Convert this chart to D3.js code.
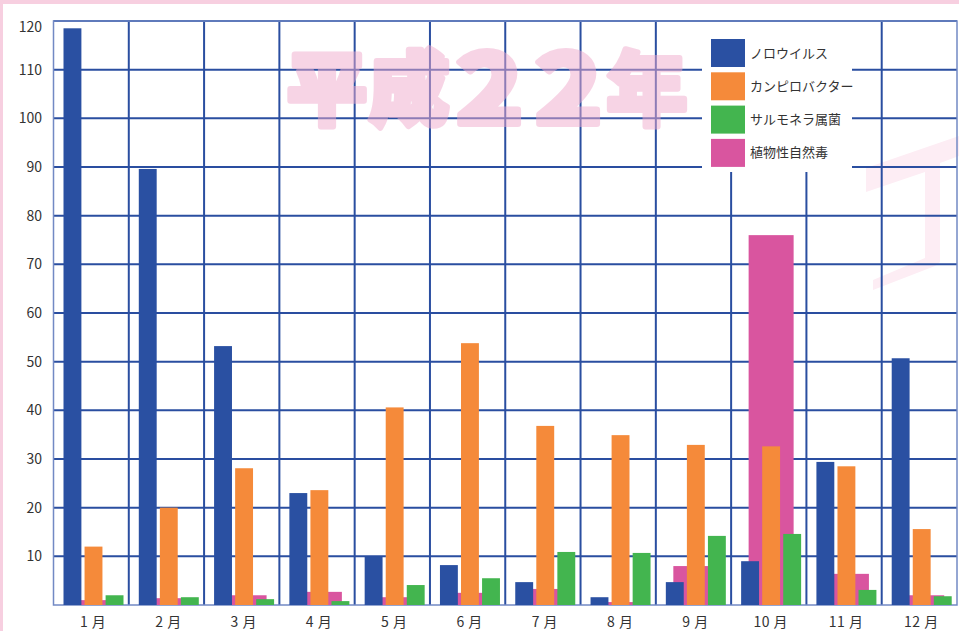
<!DOCTYPE html>
<html lang="ja">
    <head>
        <meta charset="utf-8">
        <title>平成22年 月別食中毒発生件数</title>
        <script src="https://d3js.org/d3.v7.min.js"></script>
        <style>
            body { margin: 0; background: #fff; }
            text { font-family: 'Noto Sans CJK JP', 'Noto Sans', sans-serif; }
        </style>
    </head>
    <body>
        <script>
            const months = ['1 月', '2 月', '3 月', '4 月', '5 月', '6 月', '7 月', '8 月', '9 月', '10 月', '11 月', '12 月'];
            const seriesNames = ['ノロウイルス', 'カンピロバクター', 'サルモネラ属菌', '植物性自然毒'];
            const norovirus = [118.5, 89.6, 53.2, 23, 10, 8.2, 4.7, 1.6, 4.7, 9, 29.4, 50.7];
            const campylobacter = [12, 20, 28.1, 23.6, 40.6, 53.8, 36.8, 34.9, 32.9, 32.6, 28.5, 15.6];
            const salmonella = [2, 1.6, 1.2, 0.8, 4.1, 5.5, 10.9, 10.7, 14.2, 14.6, 3.1, 1.8];
            const plantToxin = [1, 1.4, 2, 2.7, 1.6, 2.5, 3.3, 0.6, 8, 76, 6.4, 2];
            const yTicks = [10, 20, 30, 40, 50, 60, 70, 80, 90, 100, 110, 120];
            const colors = ['#2a50a2', '#f58a3a', '#43b54f', '#d9559f'];

            const w = 959;
            const h = 631;
            const plotLeft = 53.5, plotRight = 957, plotTop = 21, plotBottom = 605;

            const svg = d3.select('body')
                          .append('svg')
                          .attr('width', w)
                          .attr('height', h)

            // pink frame
            svg.append('rect').attr('x', 0).attr('y', 0).attr('width', w).attr('height', 4).attr('fill', '#f7cfe0')
            svg.append('rect').attr('x', 0).attr('y', 0).attr('width', 3).attr('height', h).attr('fill', '#f7cfe0')

            const xScale = d3.scaleBand()
                             .domain(months)
                             .range([plotLeft, plotRight])
            const inner = d3.scaleBand()
                            .domain([0, 1, 2])
                            .range([10, 70])
                            .paddingInner(0.15)
            const yScale = d3.scaleLinear()
                             .domain([0, 120])
                             .range([plotBottom, plotTop])

            // decorative shape on the right
            svg.append('path')
               .attr('d', 'M866,168 L959,136 L959,156 L940,163 L940,262 L935,266 L873,290 L873,280 L925,258 L925,172 L866,192 Z')
               .attr('fill', '#fdedf4')

            // grid
            svg.append('g')
               .selectAll('line')
               .data(yTicks)
               .enter()
               .append('line')
               .attr('x1', plotLeft)
               .attr('x2', plotRight)
               .attr('y1', d => yScale(d))
               .attr('y2', d => yScale(d))
               .attr('stroke', '#2a4ea0')
               .attr('stroke-width', 2)
            svg.append('g')
               .selectAll('line')
               .data(months.slice(1))
               .enter()
               .append('line')
               .attr('x1', d => xScale(d))
               .attr('x2', d => xScale(d))
               .attr('y1', plotTop)
               .attr('y2', plotBottom)
               .attr('stroke', '#2a4ea0')
               .attr('stroke-width', 2)

            // frame
            svg.append('rect')
               .attr('x', plotLeft)
               .attr('y', plotTop)
               .attr('width', plotRight - plotLeft)
               .attr('height', plotBottom - plotTop)
               .attr('fill', 'none')
               .attr('stroke', '#7289c4')
               .attr('stroke-width', 1.5)

            // watermark 平成22年
            const mark = svg.append('g')
                            .attr('opacity', 0.5)
                            .attr('fill', '#f1abcd')
                            .attr('stroke', '#f1abcd')
                            .attr('stroke-width', 6)
                            .attr('stroke-linejoin', 'round')
                            .attr('font-weight', 900)
            mark.append('text')
                .text('平成')
                .attr('x', 287)
                .attr('y', 118)
                .attr('font-size', 80)
                .attr('letter-spacing', 2)
            mark.append('text')
                .text('2')
                .attr('transform', 'translate(456,124) scale(1.15,1)')
                .attr('font-size', 96)
            mark.append('text')
                .text('2')
                .attr('transform', 'translate(535,124) scale(1.15,1)')
                .attr('font-size', 96)
            mark.append('text')
                .text('年')
                .attr('x', 607)
                .attr('y', 118)
                .attr('font-size', 80)

            // plant toxin: wide bar behind the others
            svg.append('g')
               .selectAll('rect')
               .data(plantToxin)
               .enter()
               .append('rect')
               .attr('x', (d, i) => xScale(months[i]) + inner(1) + inner.bandwidth() / 2 - 22.5)
               .attr('width', 45)
               .attr('y', d => yScale(d))
               .attr('height', d => plotBottom - yScale(d))
               .attr('fill', colors[3])

            const front = [norovirus, campylobacter, salmonella];
            front.forEach((values, s) => {
                svg.append('g')
                   .selectAll('rect')
                   .data(values)
                   .enter()
                   .append('rect')
                   .attr('x', (d, i) => xScale(months[i]) + inner(s))
                   .attr('width', inner.bandwidth())
                   .attr('y', d => yScale(d))
                   .attr('height', d => plotBottom - yScale(d))
                   .attr('fill', colors[s])
            })

            // y labels
            svg.append('g')
               .selectAll('text')
               .data(yTicks)
               .enter()
               .append('text')
               .text(d => d)
               .attr('x', 42)
               .attr('y', d => yScale(d) + (d === 120 ? 6 : 0))
               .attr('dy', '0.35em')
               .attr('text-anchor', 'end')
               .attr('font-size', 14)
               .attr('font-family', 'Liberation Sans, Arial, sans-serif')
               .attr('fill', '#333')

            // x labels
            svg.append('g')
               .selectAll('text')
               .data(months)
               .enter()
               .append('text')
               .text(d => d)
               .attr('x', d => xScale(d) + xScale.bandwidth() / 2 + 2)
               .attr('y', 627)
               .attr('text-anchor', 'middle')
               .attr('font-size', 14)
               .attr('letter-spacing', 0.5)
               .attr('fill', '#333')

            // legend
            const legend = svg.append('g')
            legend.append('rect')
                  .attr('x', 702)
                  .attr('y', 22)
                  .attr('width', 150)
                  .attr('height', 150)
                  .attr('fill', '#fff')
            seriesNames.forEach((name, i) => {
                legend.append('rect')
                      .attr('x', 711)
                      .attr('y', 39 + i * 33.3)
                      .attr('width', 34)
                      .attr('height', 28)
                      .attr('fill', colors[i])
                legend.append('text')
                      .text(name)
                      .attr('x', 750)
                      .attr('y', 53 + i * 33.3)
                      .attr('dy', '0.35em')
                      .attr('font-size', 13)
                      .attr('fill', '#333')
            })
        </script>
    </body>
</html>
